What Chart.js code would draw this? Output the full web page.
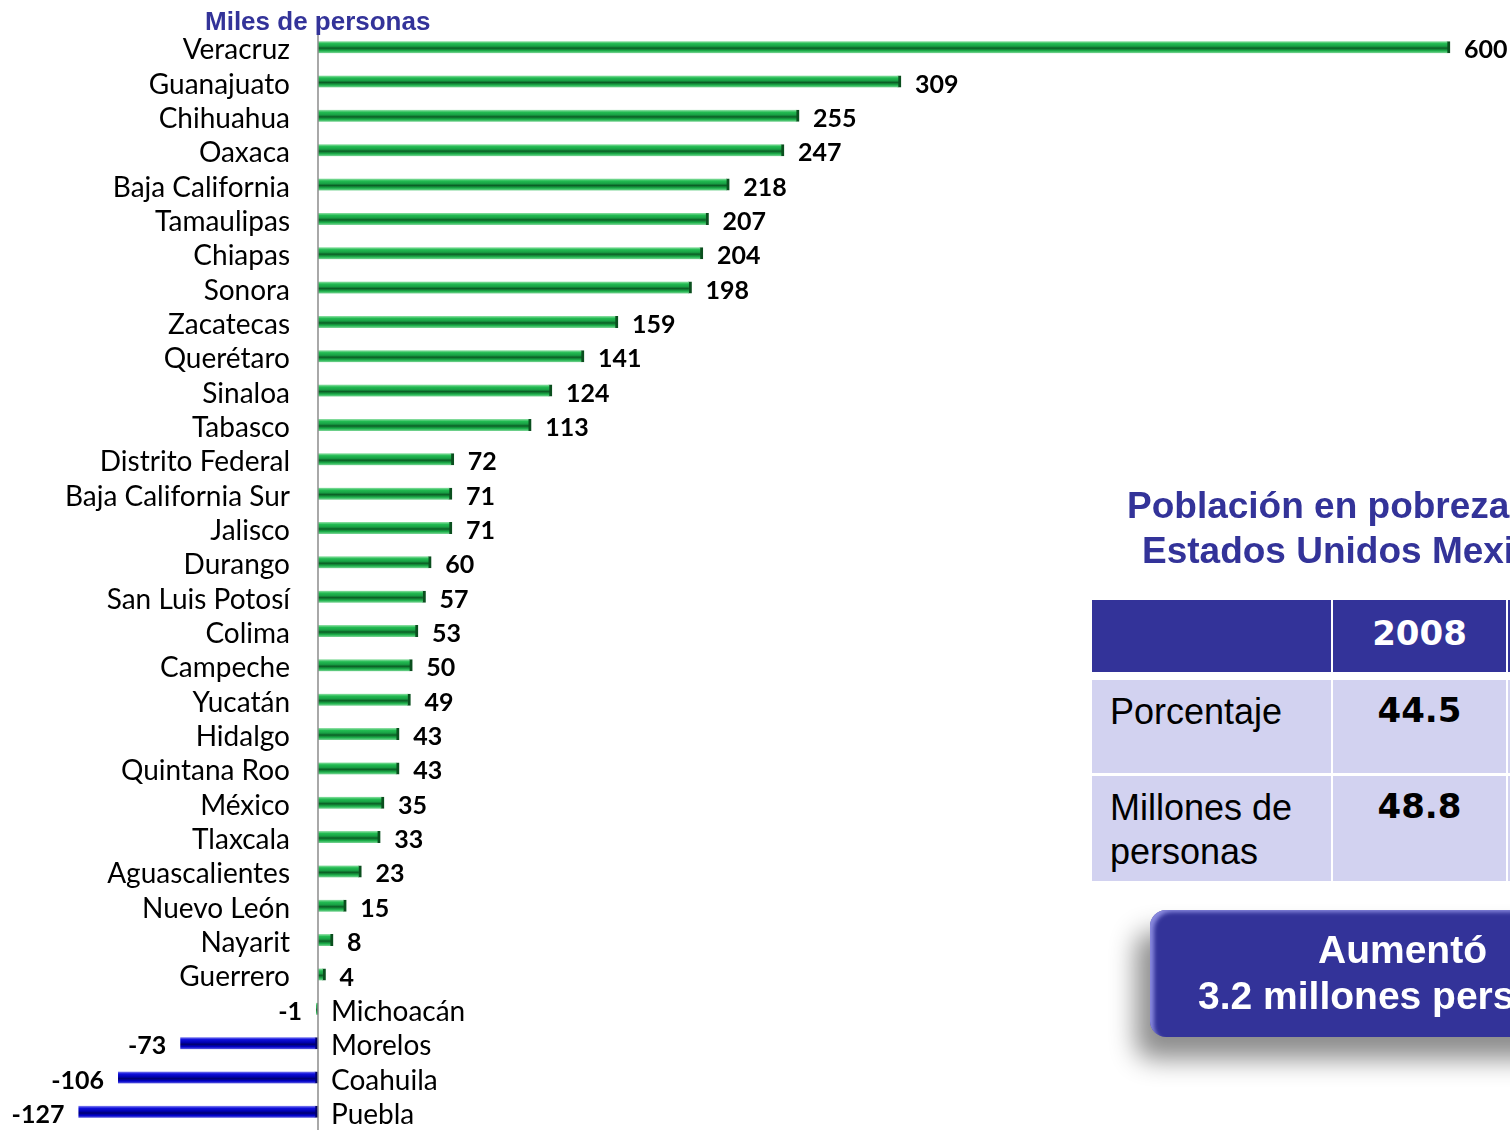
<!DOCTYPE html>
<html lang="es">
<head>
  <meta charset="UTF-8">
  <title>Población en pobreza por entidad</title>
  <script src="https://cdn.jsdelivr.net/npm/chart.js"></script>
  <style>
    html, body { margin: 0; padding: 0; background: #fff; overflow: hidden; }
    #wrap { position: relative; width: 1510px; height: 1130px; overflow: hidden; }
    #chart { position: absolute; left: 0; top: 0; }
    .abs { position: absolute; white-space: nowrap; }
    #unidad { left: 205px; top: 6px; font: bold 26px "Liberation Sans", Arial, sans-serif; color: #333399; }
    .titulo { font: bold 37px "Liberation Sans", Arial, sans-serif; color: #333399; }
    .cell { position: absolute; box-sizing: border-box; }
    .head { background: #333399; color: #fff; font: bold 34px "DejaVu Sans", sans-serif; text-align: center; padding-top: 13px; }
    .body { background: #D2D2F0; color: #000; }
    .lbl { font: 36px "Liberation Sans", Arial, sans-serif; padding: 10px 0 0 18px; line-height: 44px; }
    .num { font: bold 34px "DejaVu Sans", sans-serif; text-align: center; padding-top: 10px; }
    #caja { left: 1150px; top: 910px; width: 420px; height: 127px; background: #333399; border-radius: 16px;
            box-shadow: -14px 22px 26px rgba(0,0,0,0.45), inset 6px 4px 4px -2px rgba(160,160,240,0.8); }
    .cajatxt { color: #fff; font: bold 39px "Liberation Sans", Arial, sans-serif; }
  </style>
</head>
<body>
<div id="wrap">
  <canvas id="chart" width="1510" height="1130"></canvas>
  <div id="unidad" class="abs">Miles de personas</div>

  <div class="abs titulo" style="left:1127px; top:485px;">Población en pobreza</div>
  <div class="abs titulo" style="left:1142px; top:530px;">Estados Unidos Mexicanos</div>

  <div class="cell head" style="left:1092px; top:600px; width:239px; height:72px;"></div>
  <div class="cell head" style="left:1333px; top:600px; width:173px; height:72px;">2008</div>
  <div class="cell head" style="left:1508px; top:600px; width:173px; height:72px;">2010</div>

  <div class="cell body lbl" style="left:1092px; top:680px; width:239px; height:93px;">Porcentaje</div>
  <div class="cell body num" style="left:1333px; top:680px; width:173px; height:93px;">44.5</div>
  <div class="cell body num" style="left:1508px; top:680px; width:173px; height:93px;">46.2</div>

  <div class="cell body lbl" style="left:1092px; top:776px; width:239px; height:105px;">Millones de<br>personas</div>
  <div class="cell body num" style="left:1333px; top:776px; width:173px; height:105px;">48.8</div>
  <div class="cell body num" style="left:1508px; top:776px; width:173px; height:105px;">52.0</div>

  <div id="caja" class="abs"></div>
  <div class="abs cajatxt" style="left:1318px; top:928px;">Aumentó</div>
  <div class="abs cajatxt" style="left:1198px; top:974px;">3.2 millones personas</div>
</div>

<script>
  const estados = ['Veracruz', 'Guanajuato', 'Chihuahua', 'Oaxaca', 'Baja California', 'Tamaulipas',
    'Chiapas', 'Sonora', 'Zacatecas', 'Querétaro', 'Sinaloa', 'Tabasco', 'Distrito Federal',
    'Baja California Sur', 'Jalisco', 'Durango', 'San Luis Potosí', 'Colima', 'Campeche', 'Yucatán',
    'Hidalgo', 'Quintana Roo', 'México', 'Tlaxcala', 'Aguascalientes', 'Nuevo León', 'Nayarit',
    'Guerrero', 'Michoacán', 'Morelos', 'Coahuila', 'Puebla'];
  const cambio = [600, 309, 255, 247, 218, 207, 204, 198, 159, 141, 124, 113, 72, 71, 71, 60, 57,
    53, 50, 49, 43, 43, 35, 33, 23, 15, 8, 4, -1, -73, -106, -127];

  const half = 6;
  // Michoacán (-1) still shown green in the original; only the real drops are blue
  const esBaja = v => v < -10;

  // vertical gradient per bar, built from the category scale
  function barFill(ctx) {
    const chart = ctx.chart;
    const y = chart.scales.y;
    const baja = esBaja(ctx.raw);
    if (!chart.chartArea || !y) return baja ? '#0000CC' : '#1DB14B';
    const cy = y.getPixelForValue(ctx.dataIndex);
    const g = chart.ctx.createLinearGradient(0, cy - half, 0, cy + half);
    if (!baja) {
      g.addColorStop(0, '#9BE3AE');
      g.addColorStop(0.2, '#22BC52');
      g.addColorStop(0.42, '#18A044');
      g.addColorStop(0.58, '#0B5E25');
      g.addColorStop(0.8, '#1DB14B');
      g.addColorStop(1, '#7ED698');
    } else {
      g.addColorStop(0, '#8A8AF0');
      g.addColorStop(0.2, '#1010DD');
      g.addColorStop(0.45, '#0000B0');
      g.addColorStop(0.6, '#000070');
      g.addColorStop(0.8, '#0000CC');
      g.addColorStop(1, '#6060E0');
    }
    return g;
  }

  const etiquetas = {
    id: 'etiquetas',
    afterDatasetsDraw(chart) {
      const c = chart.ctx;
      const xs = chart.scales.x;
      const x0 = xs.getPixelForValue(0);
      const area = chart.chartArea;
      // eje vertical
      c.save();
      c.strokeStyle = '#8C8C8C';
      c.lineWidth = 1.5;
      c.beginPath();
      c.moveTo(x0, area.top - 2);
      c.lineTo(x0, area.bottom + 2);
      c.stroke();

      const meta = chart.getDatasetMeta(0);
      c.fillStyle = '#000';
      c.textBaseline = 'middle';
      meta.data.forEach((el, i) => {
        const v = cambio[i];
        const y = el.y + 3;
        c.font = '28px Lato, "Noto Sans", sans-serif';
        if (v >= 0) {
          c.textAlign = 'right';
          c.fillText(estados[i], x0 - 28, y);
          c.font = 'bold 25px Lato, "Noto Sans", sans-serif';
          c.textAlign = 'left';
          c.fillText(String(v), el.x + 14, y);
        } else {
          c.textAlign = 'left';
          c.fillText(estados[i], x0 + 13, y);
          c.font = 'bold 25px Lato, "Noto Sans", sans-serif';
          c.textAlign = 'right';
          c.fillText(String(v), el.x - 14, y);
        }
      });
      c.restore();
    }
  };

  new Chart(document.getElementById('chart'), {
    type: 'bar',
    data: {
      labels: estados,
      datasets: [{
        data: cambio,
        backgroundColor: barFill,
        borderColor: ctx => esBaja(ctx.raw) ? '#000066' : '#0A4F1E',
        borderWidth: { top: 0, bottom: 0, left: 0, right: 3 },
        borderSkipped: false,
        barThickness: 12
      }]
    },
    options: {
      indexAxis: 'y',
      responsive: false,
      animation: false,
      layout: { padding: { top: 30, bottom: 1, left: 0, right: 0 } },
      plugins: { legend: { display: false }, tooltip: { enabled: false } },
      scales: {
        x: { type: 'linear', min: -168.55, max: 631.8, display: false },
        y: { type: 'category', offset: true, display: false }
      }
    },
    plugins: [etiquetas]
  });
</script>
</body>
</html>
